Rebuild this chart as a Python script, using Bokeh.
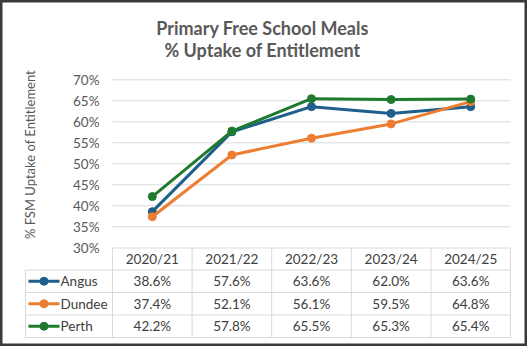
import math
from bokeh.plotting import figure
from bokeh.models import Range1d
from bokeh.core.properties import value
from bokeh.embed import file_html
from bokeh.resources import INLINE

# ---- data ----
years = ["2020/21", "2021/22", "2022/23", "2023/24", "2024/25"]
angus = [38.6, 57.6, 63.6, 62.0, 63.6]
dundee = [37.4, 52.1, 56.1, 59.5, 64.8]
perth = [42.2, 57.8, 65.5, 65.3, 65.4]
series_names = ["Angus", "Dundee", "Perth"]
series_colors = ["#1F5F8B", "#ED7D31", "#1E7A2C"]
y_ticks = [30, 35, 40, 45, 50, 55, 60, 65, 70]
title_lines = ["Primary Free School Meals", "% Uptake of Entitlement"]
y_label = "% FSM Uptake of Entitlement"

W, H = 527, 346
PLOT_L = 112.0
COL_W = 79.6
Y_BASE_PX = 247.3
PX_PER_PCT = 4.2
YMIN = 30

def X(px):
    return (px - PLOT_L) / COL_W

def Y(py):
    return YMIN + (Y_BASE_PX - py) / PX_PER_PCT

FONT = value("Lato")
TXT = "#595959"
TBL = "#404040"
GRID = "#D9D9D9"

p = figure(width=W, height=H, output_backend="svg", toolbar_location=None,
           x_range=Range1d(X(0), X(W)), y_range=Range1d(Y(H), Y(0)),
           min_border=0)
p.axis.visible = False
p.grid.visible = False
p.outline_line_color = "#3A3A3A"
p.outline_line_width = 4
p.background_fill_color = "white"
p.border_fill_color = "white"

n = len(years)
xc = [i + 0.5 for i in range(n)]

# gridlines
gl = [t for t in y_ticks if t > YMIN]
p.segment(x0=[0] * len(gl), x1=[n] * len(gl), y0=gl, y1=gl, line_color=GRID, line_width=1)

# tick labels
p.text(x=[X(99)] * len(y_ticks), y=y_ticks, text=[f"{t}%" for t in y_ticks],
       text_align="right", text_baseline="middle", text_font=FONT,
       text_font_size="13.5px", text_color=TXT)

# y label
p.text(x=[X(29)], y=[Y(154)], text=[y_label], angle=math.pi / 2,
       text_align="center", text_baseline="middle", text_font=FONT,
       text_font_size="13px", text_color=TXT)

# title
p.text(x=[X(262)] * 2, y=[Y(27), Y(49)], text=title_lines,
       text_align="center", text_baseline="middle", text_font=FONT,
       text_font_style="bold", text_font_size="18px", text_color=TXT)

# series lines
for vals, col in zip([angus, dundee, perth], series_colors):
    p.line(xc, vals, line_color=col, line_width=3)
    p.scatter(xc, vals, size=8, fill_color=col, line_color=col)

# ---- data table ----
row_edges_px = [247.5, 269.5, 292.0, 314.5, 337.0]
ry = [Y(v) for v in row_edges_px]
p.segment(x0=[0], x1=[n], y0=[ry[0]], y1=[ry[0]], line_color=GRID, line_width=1)
left_x = X(25)
p.segment(x0=[left_x] * 4, x1=[n] * 4, y0=ry[1:], y1=ry[1:], line_color=GRID, line_width=1)
vx = list(range(n + 1))
p.segment(x0=vx, x1=vx, y0=[ry[0]] * len(vx), y1=[ry[-1]] * len(vx), line_color=GRID, line_width=1)
p.segment(x0=[left_x], x1=[left_x], y0=[ry[1]], y1=[ry[-1]], line_color=GRID, line_width=1)

# headers
hy = (ry[0] + ry[1]) / 2
p.text(x=xc, y=[hy] * n, text=years, text_align="center", text_baseline="middle",
       text_font=FONT, text_font_size="13.5px", text_color=TBL)

for r, (name, vals, col) in enumerate(zip(series_names, [angus, dundee, perth], series_colors)):
    cy = (ry[r + 1] + ry[r + 2]) / 2
    p.text(x=xc, y=[cy] * n, text=[f"{v:.1f}%" for v in vals], text_align="center",
           text_baseline="middle", text_font=FONT, text_font_size="13.5px", text_color=TBL)
    p.line([X(28), X(59)], [cy, cy], line_color=col, line_width=3)
    p.scatter([X(43.5)], [cy], size=8, fill_color=col, line_color=col)
    p.text(x=[X(60)], y=[cy], text=[name], text_align="left", text_baseline="middle",
           text_font=FONT, text_font_size="13.5px", text_color=TBL)

open("out.html", "w").write(file_html(p, INLINE))
